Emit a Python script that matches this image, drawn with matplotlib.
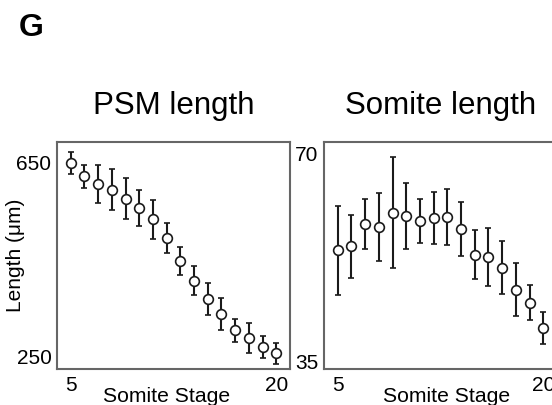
import matplotlib
matplotlib.use("Agg")
import matplotlib.pyplot as plt

plt.rcParams['font.family'] = ['Liberation Sans', 'DejaVu Sans']

stages = list(range(5, 21))
psm_mean = [650, 622, 607, 595, 576, 556, 534, 495, 447, 407, 370, 338, 305, 288, 271, 257]
psm_err = [23, 23, 39, 42, 42, 37, 40, 30, 29, 30, 33, 33, 24, 31, 23, 22]
som_mean = [53.7, 54.4, 58.1, 57.7, 60.1, 59.5, 58.6, 59.2, 59.3, 57.3, 53.0, 52.6, 50.8, 47.1, 44.9, 40.7]
som_err = [7.5, 5.3, 4.2, 5.7, 9.4, 5.5, 3.7, 4.4, 4.7, 4.6, 4.1, 4.9, 4.5, 4.5, 3.0, 2.7]

fig = plt.figure(figsize=(5.52, 4.05), dpi=100)
ax1 = fig.add_axes([0.1033, 0.0889, 0.422, 0.5605])
ax2 = fig.add_axes([0.587, 0.0889, 0.422, 0.5605])

def style(ax, mean, err, ylim, yticks, title, xlab_x):
    ax.errorbar(stages, mean, yerr=err, fmt='o', mfc='white', mec='#1a1a1a',
                ms=7, mew=1.2, ecolor='#1a1a1a', elinewidth=1.5, capsize=2.5, capthick=1.3)
    ax.set_xlim(4, 21)
    ax.set_ylim(*ylim)
    ax.set_xticks([5, 20])
    ax.set_yticks(yticks)
    ax.tick_params(length=0, pad=5)
    ax.tick_params(axis='x', labelsize=15, pad=5)
    ax.tick_params(axis='y', labelsize=15, pad=4)
    for s in ax.spines.values():
        s.set_color('#666666')
        s.set_linewidth(1.5)
    ax.set_xlabel('Somite Stage', fontsize=15.2)
    ax.xaxis.set_label_coords(xlab_x, -0.078, transform=ax.transAxes)
    ax.xaxis.label.set_va('top')
    ax.set_title(title, fontsize=22.5, pad=20)

style(ax1, psm_mean, psm_err, (225, 693), [250, 650], 'PSM length', 0.47)
style(ax2, som_mean, som_err, (33.7, 72.0), [35, 70], 'Somite length', 0.526)
ax1.set_ylabel('Length (μm)', fontsize=15)
ax1.yaxis.set_label_coords(-0.18, 0.5)
ax1.yaxis.label.set_va('center')

fig.text(0.034, 0.911, 'G', fontsize=23, fontweight='bold')

fig.savefig('out.png', dpi=100)
